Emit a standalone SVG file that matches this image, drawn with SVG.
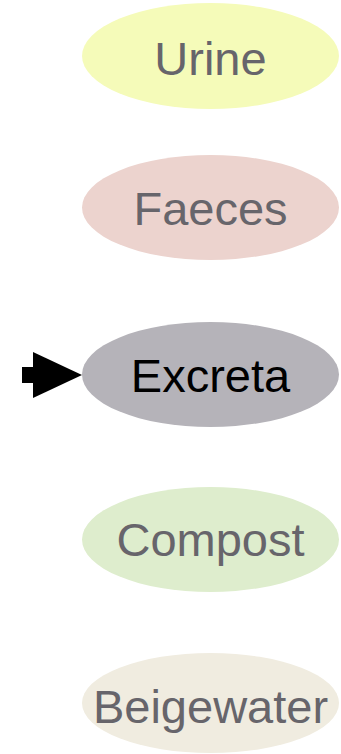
<svg xmlns="http://www.w3.org/2000/svg" width="341" height="754" viewBox="0 0 341 754">
<style>
.lbl{font-family:"Liberation Sans",Arial,sans-serif;font-size:47px;text-anchor:middle;fill:#67656b}
</style>
<rect width="341" height="754" fill="#ffffff"/>
<g id="urine"><ellipse cx="210.5" cy="56" rx="128.5" ry="53" fill="#f5fbb9"/><text class="lbl" x="210.5" y="75">Urine</text></g>
<g id="faeces"><ellipse cx="210.5" cy="207.5" rx="128.5" ry="52.5" fill="#ecd3ce"/><text class="lbl" x="210.5" y="225">Faeces</text></g>
<g id="excreta"><ellipse cx="210.5" cy="374.5" rx="128.5" ry="52.5" fill="#b5b3b9"/><text class="lbl" x="210.5" y="392" style="fill:#000000">Excreta</text></g>
<g id="compost"><ellipse cx="210.5" cy="539.5" rx="128.5" ry="52.5" fill="#deedcd"/><text class="lbl" x="210.5" y="556">Compost</text></g>
<g id="beigewater"><ellipse cx="210.5" cy="703" rx="128.5" ry="50" fill="#f0ece0"/><text class="lbl" x="210.5" y="723">Beigewater</text></g>
<g id="connectors">
<rect x="22" y="367" width="12" height="16" fill="#000000"/>
<polygon points="33,352 82,375 33,398" fill="#000000"/>
</g>
</svg>
